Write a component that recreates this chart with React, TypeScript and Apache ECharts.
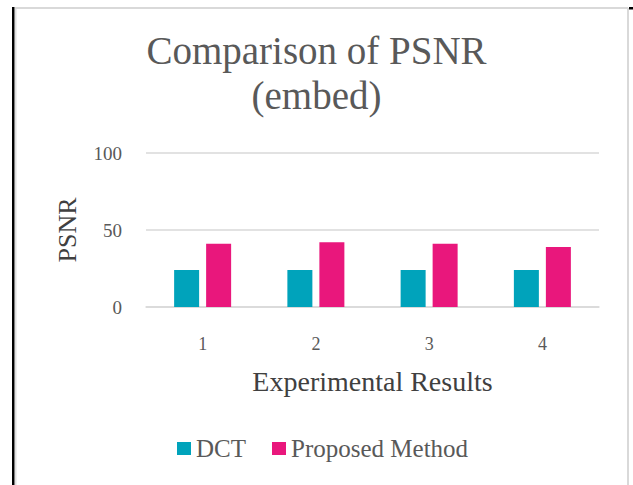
import React, { useEffect, useRef } from "react";
import * as echarts from "echarts";

const categories = ["1", "2", "3", "4"];
const dctValues = [24, 24, 24, 24];
const proposedValues = [41, 42, 41, 39];
const seriesNames = ["DCT", "Proposed Method"];
const titleLines = ["Comparison of PSNR", "(embed)"];
const yAxisName = "PSNR";
const xAxisName = "Experimental Results";

const FONT = "'Liberation Serif', 'Times New Roman', serif";

export default function App() {
  const ref = useRef<HTMLDivElement>(null);
  useEffect(() => {
    document.body.style.margin = "0";
    const chart = echarts.init(ref.current!, null, { renderer: "svg" });
    chart.setOption({
      animation: false,
      backgroundColor: "#ffffff",
      title: {
        text: titleLines.join("\n"),
        left: "center",
        top: 28,
        padding: 0,
        textStyle: {
          fontFamily: FONT,
          fontSize: 39,
          fontWeight: "normal",
          color: "#595959",
          lineHeight: 45,
        },
      },
      legend: {
        data: seriesNames,
        left: 177,
        top: 436,
        padding: 0,
        itemWidth: 14,
        itemHeight: 13,
        itemGap: 26,
        icon: "rect",
        textStyle: { fontFamily: FONT, fontSize: 25, color: "#595959" },
      },
      grid: { left: 146, right: 34, top: 153, bottom: 178 },
      xAxis: {
        type: "category",
        data: categories,
        name: xAxisName,
        nameLocation: "middle",
        nameGap: 60,
        nameTextStyle: { fontFamily: FONT, fontSize: 28, color: "#404040" },
        axisLine: { lineStyle: { color: "#d9d9d9", width: 1.5 } },
        axisTick: { show: false },
        axisLabel: { margin: 28, fontFamily: FONT, fontSize: 18, color: "#595959" },
      },
      yAxis: {
        type: "value",
        min: 0,
        max: 100,
        interval: 50,
        name: yAxisName,
        nameLocation: "middle",
        nameGap: 66,
        nameTextStyle: { fontFamily: FONT, fontSize: 26, color: "#404040" },
        axisLine: { show: false },
        axisTick: { show: false },
        splitLine: { lineStyle: { color: "#d9d9d9", width: 1.5 } },
        axisLabel: { margin: 24, fontFamily: FONT, fontSize: 19, color: "#595959" },
      },
      series: [
        {
          name: seriesNames[0],
          type: "bar",
          data: dctValues,
          barWidth: 25,
          barGap: "28%",
          itemStyle: { color: "#00A3BB" },
        },
        {
          name: seriesNames[1],
          type: "bar",
          data: proposedValues,
          barWidth: 25,
          itemStyle: { color: "#E9177C" },
        },
      ],
      graphic: [
        { type: "rect", shape: { x: 12, y: 7, width: 2.5, height: 478 }, style: { fill: "#000000" }, silent: true },
        { type: "rect", shape: { x: 15, y: 8, width: 1.5, height: 477 }, style: { fill: "#e0e0e0" }, silent: true },
        { type: "rect", shape: { x: 15, y: 7, width: 613, height: 2 }, style: { fill: "#d9d9d9" }, silent: true },
        { type: "rect", shape: { x: 627, y: 8, width: 2, height: 477 }, style: { fill: "#d9d9d9" }, silent: true },
        { type: "rect", shape: { x: 629, y: 7, width: 4, height: 2.5 }, style: { fill: "#000000" }, silent: true },
      ],
    });
    return () => chart.dispose();
  }, []);
  return (
    <div
      ref={ref}
      style={{ position: "fixed", left: 0, top: 0, width: 633, height: 485 }}
    />
  );
}
